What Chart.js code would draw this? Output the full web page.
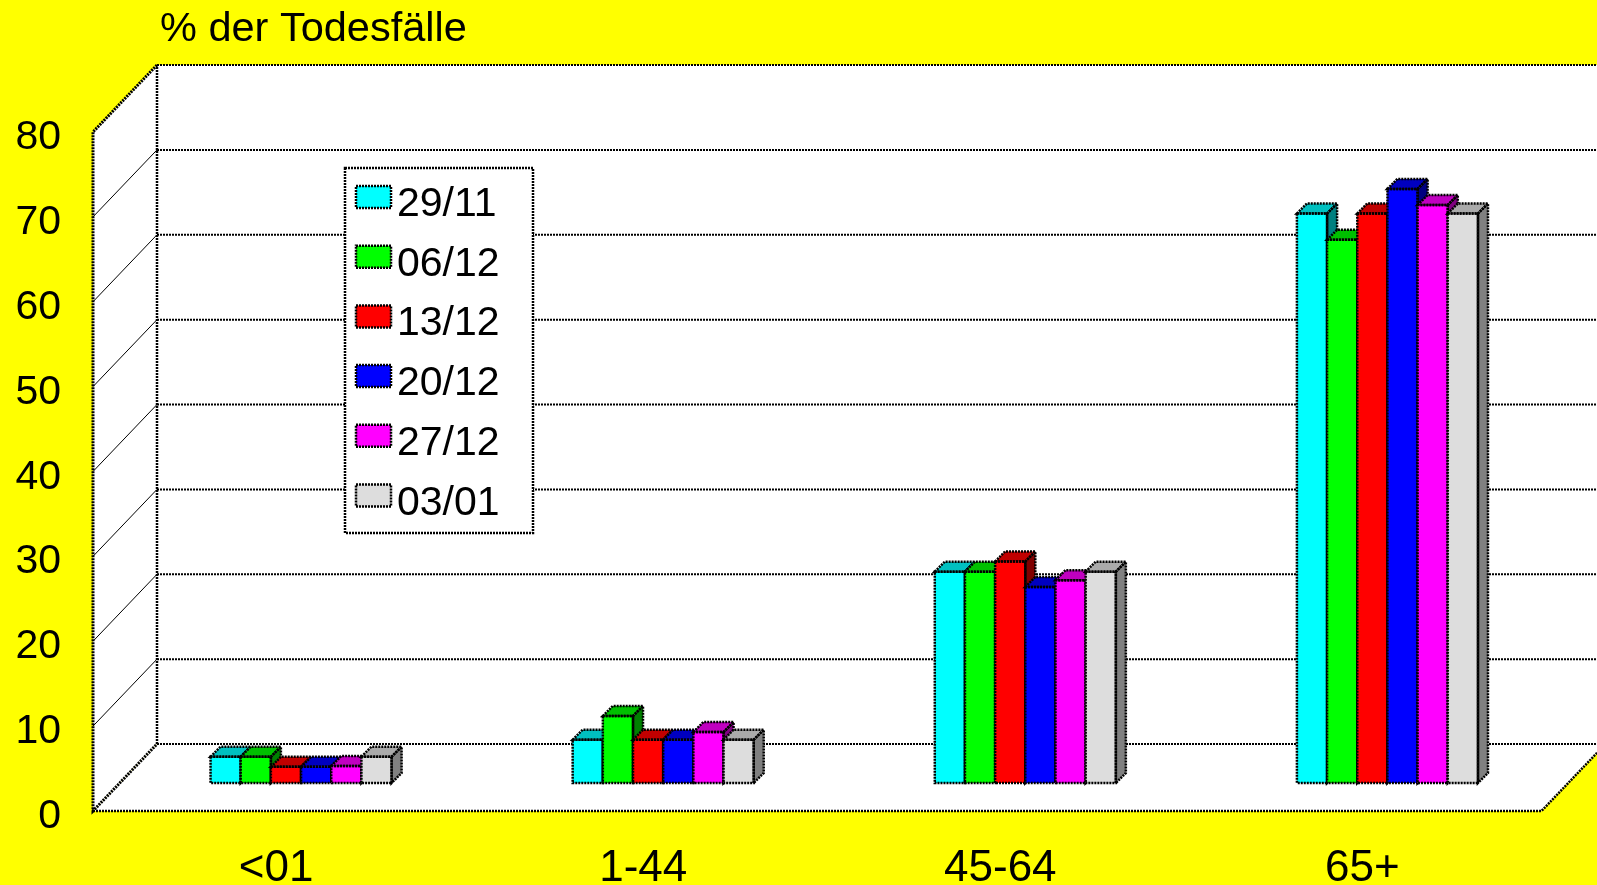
<!DOCTYPE html>
<html>
<head>
<meta charset="utf-8">
<title>% der Todesfälle</title>
<script src="https://cdn.jsdelivr.net/npm/chart.js@4.4.1/dist/chart.umd.min.js"></script>
<style>
  html, body { margin: 0; padding: 0; background: #ffff00; }
  canvas { display: block; }
</style>
</head>
<body>
<canvas id="chart" width="1597" height="885"></canvas>
<script>
// age groups along the x axis, one bar per week inside each group
const ageGroups = ['<01', '1-44', '45-64', '65+'];
const weeks = ['29/11', '06/12', '13/12', '20/12', '27/12', '03/01'];
const yTicks = [0, 10, 20, 30, 40, 50, 60, 70, 80];

// share of deaths (%) per age group
const week2911 = [3.1, 5.1, 24.9, 67.1];
const week0612 = [3.1, 7.9, 24.9, 64.0];
const week1312 = [1.9, 5.1, 26.1, 67.1];
const week2012 = [1.9, 5.1, 23.1, 70.0];
const week2712 = [2.0, 6.0, 23.9, 68.1];
const week0301 = [3.1, 5.1, 24.9, 67.1];
const seriesValues = [week2911, week0612, week1312, week2012, week2712, week0301];

const frontColors = ['#00ffff', '#00ff00', '#ff0000', '#0000ff', '#ff00ff', '#dddddd'];
const topColors = ['#00c0c0', '#00c000', '#c00000', '#0000c0', '#c000c0', '#aaaaaa'];
const sideColors = ['#008080', '#008000', '#800000', '#000080', '#800080', '#808080'];

const FONT = "'Liberation Sans', Arial, sans-serif";
// offsets of the front edge and the back wall relative to the plane the bars stand in
const FRONT = { dx: -27, dy: 28 };
const BACK = { dx: 37, dy: -39 };
const BAR_DEPTH = 10;

const dotted = (ctx, pts, width, close) => {
    ctx.save();
    ctx.strokeStyle = '#000';
    ctx.lineWidth = width || 2;
    ctx.setLineDash([2, 1]);
    ctx.beginPath();
    ctx.moveTo(pts[0][0], pts[0][1]);
    for (let i = 1; i < pts.length; i++) ctx.lineTo(pts[i][0], pts[i][1]);
    if (close) ctx.closePath();
    ctx.stroke();
    ctx.restore();
};

const fillPoly = (ctx, pts, color) => {
    ctx.fillStyle = color;
    ctx.beginPath();
    ctx.moveTo(pts[0][0], pts[0][1]);
    for (let i = 1; i < pts.length; i++) ctx.lineTo(pts[i][0], pts[i][1]);
    ctx.closePath();
    ctx.fill();
};

const box3d = {
    id: 'box3d',
    beforeDraw(chart) {
        const ctx = chart.ctx;
        ctx.save();
        ctx.fillStyle = '#ffff00';
        ctx.fillRect(0, 0, chart.width, chart.height);
        ctx.restore();
    },
    // walls, floor and gridlines
    beforeDatasetsDraw(chart) {
        const ctx = chart.ctx;
        const y = chart.scales.y;
        const { left, right } = chart.chartArea;
        const top = yTicks[yTicks.length - 1];
        const F = (x, v) => [x + FRONT.dx, y.getPixelForValue(v) + FRONT.dy];
        const B = (x, v) => [x + BACK.dx, y.getPixelForValue(v) + BACK.dy];

        ctx.save();
        fillPoly(ctx, [F(left, top), B(left, top), B(left, 0), F(left, 0)], '#fff');
        fillPoly(ctx, [B(left, top), B(right, top), B(right, 0), B(left, 0)], '#fff');
        fillPoly(ctx, [F(left, 0), B(left, 0), B(right, 0), F(right, 0)], '#fff');

        yTicks.forEach((v) => {
            dotted(ctx, [B(left, v), B(right, v)], 2);
            if (v > 0 && v < top) {
                ctx.strokeStyle = '#000';
                ctx.lineWidth = 1;
                ctx.beginPath();
                ctx.moveTo(...F(left, v));
                ctx.lineTo(...B(left, v));
                ctx.stroke();
            }
        });
        dotted(ctx, [B(left, 0), B(left, top)], 2.5);
        dotted(ctx, [B(left, top), F(left, top), F(left, 0), B(left, 0)], 3);
        dotted(ctx, [F(left, 0), F(right, 0), B(right, 0)], 2.5);
        ctx.restore();
    },
    // 3d columns, left to right so each one hides the side of its neighbour
    afterDatasetsDraw(chart) {
        const ctx = chart.ctx;
        const d = BAR_DEPTH;
        ctx.save();
        ageGroups.forEach((g, i) => {
            seriesValues.forEach((s, j) => {
                const bar = chart.getDatasetMeta(j).data[i];
                const L = bar.x - bar.width / 2;
                const R = bar.x + bar.width / 2;
                const T = bar.y;
                const Bo = bar.base;
                const side = [[R, T], [R + d, T - d], [R + d, Bo - d], [R, Bo]];
                const topFace = [[L, T], [L + d, T - d], [R + d, T - d], [R, T]];
                const front = [[L, T], [R, T], [R, Bo], [L, Bo]];
                fillPoly(ctx, side, sideColors[j]);
                fillPoly(ctx, topFace, topColors[j]);
                fillPoly(ctx, front, frontColors[j]);
                dotted(ctx, side, 2.5, true);
                dotted(ctx, topFace, 2.5, true);
                dotted(ctx, front, 2.5, true);
            });
        });
        ctx.restore();
    },
    // axis labels, title and legend
    afterDraw(chart) {
        const ctx = chart.ctx;
        const x = chart.scales.x;
        const y = chart.scales.y;
        ctx.save();
        ctx.fillStyle = '#000';

        ctx.font = `41px ${FONT}`;
        ctx.textAlign = 'right';
        ctx.textBaseline = 'alphabetic';
        yTicks.forEach((v) => {
            ctx.fillText(String(v), 61, y.getPixelForValue(v) + FRONT.dy + 17);
        });

        ctx.font = `44px ${FONT}`;
        ctx.textAlign = 'center';
        ageGroups.forEach((g, i) => {
            ctx.fillText(g, x.getPixelForValue(i) + FRONT.dx + (g === '1-44' ? 7 : 2), 881);
        });

        ctx.font = `41.5px ${FONT}`;
        ctx.textAlign = 'left';
        ctx.fillText('% der Todesfälle', 160, 41);

        // legend box
        fillPoly(ctx, [[345, 168], [533, 168], [533, 533], [345, 533]], '#fff');
        dotted(ctx, [[345, 168], [533, 168], [533, 533], [345, 533]], 2.5, true);
        ctx.font = `41px ${FONT}`;
        weeks.forEach((w, j) => {
            const rowY = 186 + j * 59.7;
            const sw = [[356, rowY], [391, rowY], [391, rowY + 22], [356, rowY + 22]];
            fillPoly(ctx, sw, frontColors[j]);
            dotted(ctx, sw, 2.5, true);
            ctx.fillStyle = '#000';
            ctx.fillText(w, 397, rowY + 30);
        });
        ctx.restore();
    }
};

new Chart(document.getElementById('chart'), {
    type: 'bar',
    data: {
        labels: ageGroups,
        datasets: weeks.map((w, j) => ({
            label: w,
            data: seriesValues[j],
            backgroundColor: frontColors[j],
            borderWidth: 0,
            categoryPercentage: 0.5,
            barPercentage: 1.0,
        })),
    },
    options: {
        responsive: false,
        animation: false,
        devicePixelRatio: 1,
        layout: { padding: { left: 120, right: 28.5, top: 104, bottom: 102 } },
        scales: {
            x: { display: false },
            y: { display: false, min: 0, max: 80 },
        },
        plugins: {
            legend: { display: false },
            title: { display: false },
            tooltip: { enabled: false },
        },
    },
    plugins: [box3d],
});
</script>
</body>
</html>
